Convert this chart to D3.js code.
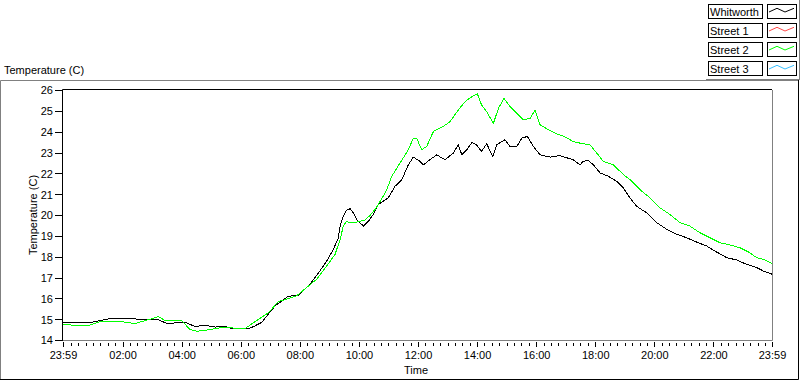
<!DOCTYPE html>
<html>
<head>
<meta charset="utf-8">
<script src="https://cdn.jsdelivr.net/npm/d3@7"></script>
<style>
  body { margin: 0; background: #fff; }
  svg text { font-family: "Liberation Sans", Arial, sans-serif; font-size: 11px; fill: #000; }
</style>
</head>
<body>
<svg id="chart" width="800" height="380"></svg>
<script>
// legend entries (LabVIEW plot order)
var seriesNames = ["Whitworth", "Street 1", "Street 2", "Street 3"];
var seriesColors = ["#000000", "#ff4848", "#00ff00", "#38c0ff"];

var yTicks = [14, 15, 16, 17, 18, 19, 20, 21, 22, 23, 24, 25, 26];
var xTickLabels = ["23:59", "02:00", "04:00", "06:00", "08:00", "10:00", "12:00",
                   "14:00", "16:00", "18:00", "20:00", "22:00", "23:59"];

// hours after 23:59 the evening before
var whitworthHours = [0, 0.97, 1.31, 1.59, 2.33, 2.61, 3.23, 3.56, 3.79, 4.13, 4.47, 4.81, 5.15, 5.48, 5.71,
  6.27, 6.50, 6.73, 6.95, 7.18, 7.63, 7.96, 8.13, 8.36, 8.70, 8.93, 9.15, 9.32, 9.38, 9.49, 9.60, 9.72, 9.83,
  9.94, 10.05, 10.17, 10.34, 10.50, 10.67, 10.84, 11.01, 11.24, 11.47, 11.69, 11.86, 12.09, 12.20, 12.42,
  12.65, 12.93, 13.21, 13.38, 13.50, 13.67, 13.84, 14.00, 14.17, 14.34, 14.55, 14.68, 14.96, 15.13, 15.36,
  15.53, 15.72, 15.92, 16.15, 16.49, 16.82, 17.27, 17.50, 17.61, 17.78, 17.95, 18.18, 18.46, 18.74, 18.97,
  19.19, 19.42, 19.76, 20.10, 20.44, 20.78, 21.11, 21.45, 21.79, 22.13, 22.47, 22.81, 23.14, 23.48, 23.71, 24.0];
var whitworthTemp = [14.85, 14.85, 14.95, 15.03, 15.04, 14.97, 14.97, 14.77, 14.82, 14.85, 14.65, 14.7, 14.62,
  14.66, 14.55, 14.53, 14.68, 14.85, 15.24, 15.64, 16.1, 16.15, 16.36, 16.68, 17.32, 17.8, 18.35, 18.9, 19.47,
  19.94, 20.23, 20.3, 20.1, 19.79, 19.63, 19.47, 19.7, 20.02, 20.5, 20.66, 20.82, 21.38, 21.7, 22.41, 22.78,
  22.57, 22.41, 22.65, 22.89, 22.65, 22.97, 23.37, 22.89, 23.13, 23.48, 23.37, 23.05, 23.42, 22.81, 23.37,
  23.61, 23.29, 23.29, 23.69, 23.77, 23.29, 22.89, 22.78, 22.85, 22.65, 22.41, 22.57, 22.62, 22.41, 22.02,
  21.86, 21.62, 21.3, 20.82, 20.42, 20.1, 19.63, 19.31, 19.07, 18.91, 18.7, 18.51, 18.22, 17.95, 17.84,
  17.63, 17.48, 17.31, 17.16];

var street1Hours = [], street1Temp = [];

var street2Hours = [0, 0.41, 0.86, 1.31, 1.86, 2.44, 2.95, 3.23, 3.45, 4.02, 4.30, 4.53, 4.98, 5.37, 6.16,
  6.50, 6.95, 7.29, 7.57, 7.91, 8.25, 8.59, 8.93, 9.21, 9.38, 9.49, 9.60, 9.72, 9.88, 10.05, 10.22,
  10.39, 10.56, 10.67, 10.84, 10.96, 11.13, 11.41, 11.69, 11.86, 11.97, 12.14, 12.31, 12.54, 12.87, 13.10,
  13.38, 13.61, 13.84, 14.03, 14.17, 14.34, 14.57, 14.74, 14.93, 15.13, 15.30, 15.47, 15.58, 15.81, 15.98,
  16.15, 16.43, 16.71, 16.99, 17.27, 17.50, 17.84, 18.07, 18.29, 18.63, 18.97, 19.19, 19.53, 19.87, 20.21,
  20.55, 20.89, 21.22, 21.56, 21.90, 22.24, 22.58, 22.91, 23.25, 23.48, 23.71, 24.0];
var street2Temp = [14.77, 14.69, 14.69, 14.9, 14.9, 14.79, 15.0, 15.13, 14.93, 14.93, 14.5, 14.42, 14.5, 14.6,
  14.55, 14.88, 15.3, 15.85, 15.96, 16.12, 16.52, 16.92, 17.56, 18.11, 18.83, 19.47, 19.7, 19.62, 19.63,
  19.7, 19.75, 19.98, 20.26, 20.5, 20.9, 21.22, 21.86, 22.5, 23.13, 23.69, 23.69, 23.13, 23.29, 24.01, 24.25,
  24.48, 25.04, 25.44, 25.68, 25.81, 25.28, 24.96, 24.4, 25.12, 25.6, 25.2, 24.96, 24.72, 24.57, 24.64,
  25.04, 24.33, 24.09, 23.9, 23.75, 23.53, 23.45, 23.37, 22.97, 22.57, 22.41, 21.94, 21.7, 21.22, 20.82,
  20.34, 20.02, 19.63, 19.47, 19.15, 18.91, 18.67, 18.56, 18.43, 18.19, 17.95, 17.87, 17.68];

var street3Hours = [], street3Temp = [];

var allHours = [whitworthHours, street1Hours, street2Hours, street3Hours];
var allTemps = [whitworthTemp, street1Temp, street2Temp, street3Temp];

var svg = d3.select("#chart");
var grey = "#808080";

var start = new Date(2000, 0, 1, 23, 59);
var end = d3.timeHour.offset(start, 24);
function toDate(h) { return new Date(start.getTime() + h * 3600000); }

var x = d3.scaleTime().domain([start, end]).range([63, 772]);
var y = d3.scaleLinear().domain([14, 26]).range([340, 90]);

// outer frame
svg.append("path").attr("d", "M0.5,379V80.5H799").attr("stroke", grey).attr("fill", "none");
svg.append("path").attr("d", "M0,379.5H798.5V80").attr("stroke", "#000").attr("fill", "none");

// plot area border: dark top/left, grey bottom/right
svg.append("path").attr("d", "M62.5,341V89.5H772").attr("stroke", "#000").attr("fill", "none");
svg.append("path").attr("d", "M63,340.5H772.5V90").attr("stroke", grey).attr("fill", "none");

svg.append("text").attr("x", 4).attr("y", 74).text("Temperature (C)");

// y axis
var yAxis = svg.append("g")
  .attr("transform", "translate(62,0)")
  .call(d3.axisLeft(y).tickValues(yTicks).tickSize(7).tickSizeOuter(0).tickPadding(2));
yAxis.select(".domain").remove();
yAxis.selectAll("line").attr("stroke", "#000");
yAxis.selectAll("text").attr("dy", "0.36em");
yAxis.attr("font-family", null).attr("font-size", null);

svg.append("text")
  .attr("transform", "translate(36.5,215) rotate(-90)")
  .attr("text-anchor", "middle")
  .text("Temperature (C)");

// x axis: major ticks at the labels, minor ticks every 15 minutes
var majorTicks = xTickLabels.map(function (s, i) {
  if (i == 0) return start;
  var p = s.split(":");
  return new Date(2000, 0, 2, +p[0], +p[1]);
});
var minorTicks = d3.timeMinute.every(15).range(d3.timeMinute.offset(start, 2), end)
  .filter(function (d) { return !(d.getMinutes() == 0 && d.getHours() % 2 == 0); });

var xMinor = svg.append("g")
  .attr("transform", "translate(0,343)")
  .call(d3.axisBottom(x).tickValues(minorTicks).tickSize(3).tickSizeOuter(0).tickFormat(""));
xMinor.select(".domain").remove();

var xAxis = svg.append("g")
  .attr("transform", "translate(0,342)")
  .call(d3.axisBottom(x).tickValues(majorTicks).tickSize(5).tickSizeOuter(0)
    .tickFormat(function (d, i) { return xTickLabels[i]; }));
xAxis.select(".domain").remove();
xAxis.selectAll("text").attr("y", 9);
xAxis.attr("font-family", null).attr("font-size", null);
svg.selectAll(".tick line").attr("stroke", "#000").attr("shape-rendering", "crispEdges");

svg.append("text").attr("x", 416).attr("y", 374).attr("text-anchor", "middle").text("Time");

// plot lines
var line = d3.line()
  .x(function (d) { return x(toDate(d[0])); })
  .y(function (d) { return y(d[1]); });

seriesNames.forEach(function (name, k) {
  var pts = d3.zip(allHours[k], allTemps[k]);
  if (!pts.length) return;
  svg.append("path")
    .datum(pts)
    .attr("d", line)
    .attr("fill", "none")
    .attr("stroke", seriesColors[k])
    .attr("stroke-width", 1)
    .attr("shape-rendering", "crispEdges");
});

// legend
svg.append("path").attr("d", "M799.5,0V80M706,79.5H800").attr("stroke", grey).attr("fill", "none");
var legend = svg.append("g").selectAll("g")
  .data(seriesNames)
  .enter().append("g")
  .attr("transform", function (d, i) { return "translate(0," + (4 + i * 19) + ")"; });
legend.append("rect").attr("x", 708.5).attr("y", 0.5).attr("width", 54).attr("height", 14)
  .attr("fill", "#fff").attr("stroke", "#000");
legend.append("text").attr("x", 710).attr("y", 12).text(function (d) { return d; });
legend.append("rect").attr("x", 767.5).attr("y", 0.5).attr("width", 29).attr("height", 14)
  .attr("fill", "#fff").attr("stroke", "#000");
legend.append("path")
  .attr("d", "M769,8L777,4.3L785,8L794,4.3")
  .attr("fill", "none")
  .attr("stroke", function (d, i) { return seriesColors[i]; });
</script>
</body>
</html>
